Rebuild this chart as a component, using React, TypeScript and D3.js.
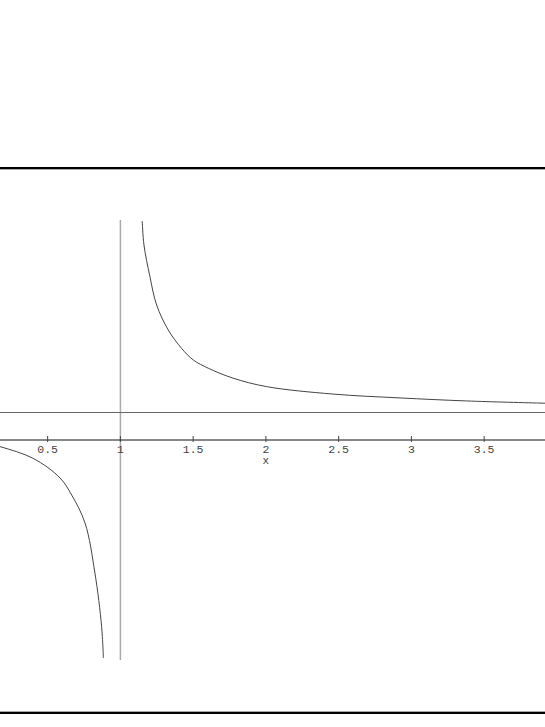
import React from 'react';
import * as d3 from 'd3';

const width = 545;
const height = 727;

// x ticks and the two guide lines
const xTicks = [0.5, 1, 1.5, 2, 2.5, 3, 3.5];
const xLabel = 'x';
const asymptoteX = 1;
const asymptoteY = 1;

// right branch (x > 1), read point by point
const rightX = [1.15, 1.162, 1.203, 1.249, 1.329, 1.421, 1.501, 1.604, 1.774, 2.006, 2.461, 2.922, 3.38, 3.905, 4.0];
const rightY = [7.96, 7.09, 5.94, 4.91, 4.0, 3.33, 2.91, 2.61, 2.25, 1.94, 1.67, 1.53, 1.42, 1.34, 1.33];

// left branch (x < 1)
const leftX = [0.0, 0.1725, 0.401, 0.585, 0.665, 0.757, 0.825, 0.871, 0.883];
const leftY = [0.0, -0.24, -0.67, -1.38, -2.0, -3.02, -4.84, -6.79, -7.93];

const monoFont = "'Liberation Mono', 'DejaVu Sans Mono', monospace";

const App = () => {
  const xScale = d3.scaleLinear().domain([0, 4]).range([-25.1, 556.9]);
  const yScale = d3.scaleLinear().domain([-8, 8]).range([660, 220]);

  const line = d3.line<[number, number]>()
    .x(d => xScale(d[0]))
    .y(d => yScale(d[1]))
    .curve(d3.curveCatmullRom.alpha(0.5));

  const right = rightX.map((x, i) => [x, rightY[i]] as [number, number]);
  const left = leftX.map((x, i) => [x, leftY[i]] as [number, number]);

  const axisY = yScale(0);

  return (
    <svg
      width={width}
      height={height}
      style={{ position: 'absolute', left: 0, top: 0, background: '#fff' }}
    >
      {/* frame rules */}
      <line x1={0} x2={width} y1={168} y2={168} stroke="#000" strokeWidth={2} />
      <line x1={0} x2={width} y1={169.5} y2={169.5} stroke="#aaa" strokeWidth={1} />
      <line x1={0} x2={width} y1={711.5} y2={711.5} stroke="#aaa" strokeWidth={1} />
      <line x1={0} x2={width} y1={713} y2={713} stroke="#000" strokeWidth={2} />

      {/* asymptotes */}
      <line
        x1={xScale(asymptoteX)}
        x2={xScale(asymptoteX)}
        y1={yScale(8)}
        y2={yScale(-8)}
        stroke="#aaa"
        strokeWidth={1.5}
      />
      <line
        x1={0}
        x2={width}
        y1={yScale(asymptoteY)}
        y2={yScale(asymptoteY)}
        stroke="#666"
        strokeWidth={1.2}
      />

      {/* x axis */}
      <line x1={0} x2={width} y1={axisY} y2={axisY} stroke="#111" strokeWidth={1} />
      {xTicks.map((t, i) => (
        <g key={i}>
          <line
            x1={xScale(t)}
            x2={xScale(t)}
            y1={axisY - 4}
            y2={axisY + 2}
            stroke="#444"
            strokeWidth={1}
          />
          <text
            x={xScale(t)}
            y={452.5}
            fontSize="11.5"
            fontFamily={monoFont}
            textAnchor="middle"
            fill="#444"
          >
            {t}
          </text>
        </g>
      ))}
      <text
        x={xScale(2)}
        y={464}
        fontSize="11"
        fontFamily={monoFont}
        textAnchor="middle"
        fill="#444"
      >
        {xLabel}
      </text>

      {/* curve */}
      <path d={line(right) || ''} fill="none" stroke="#444" strokeWidth={1} />
      <path d={line(left) || ''} fill="none" stroke="#444" strokeWidth={1} />
    </svg>
  );
};

export default App;
